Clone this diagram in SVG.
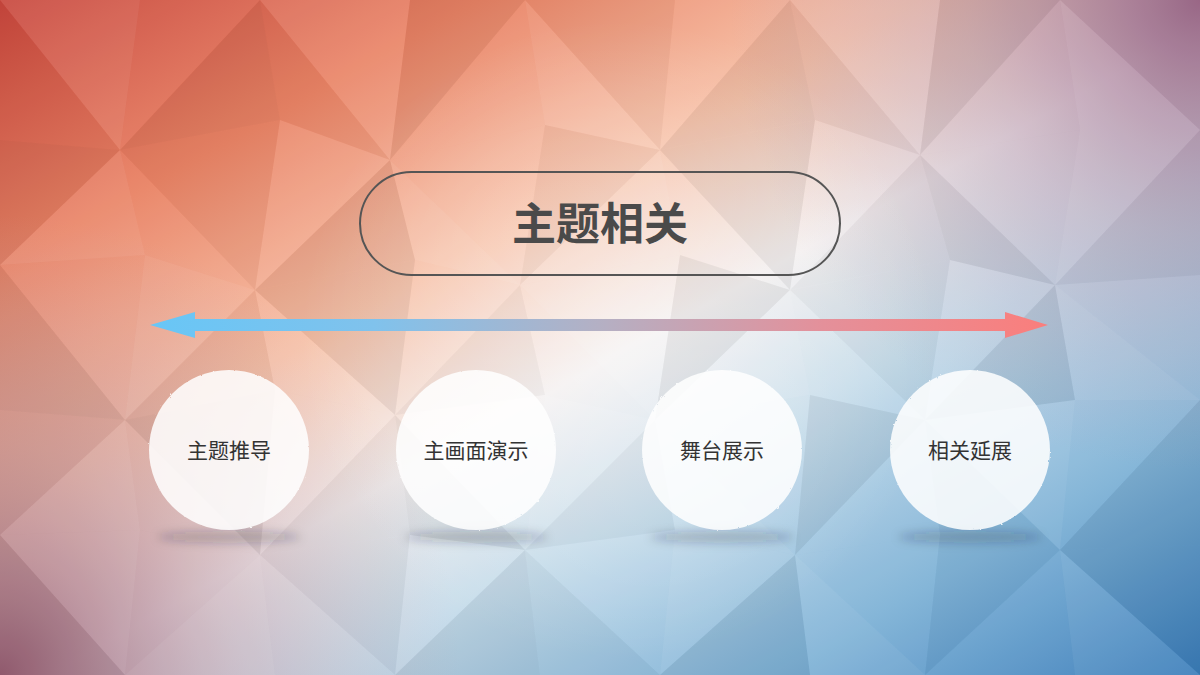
<svg xmlns="http://www.w3.org/2000/svg" width="1200" height="675" viewBox="0 0 1200 675">
<defs>
<linearGradient id="bg" x1="0" y1="0" x2="1" y2="1">
<stop offset="0" stop-color="#c8463c"/>
<stop offset="0.2" stop-color="#ea8466"/>
<stop offset="0.38" stop-color="#f7c0a6"/>
<stop offset="0.52" stop-color="#f2eeee"/>
<stop offset="0.64" stop-color="#c4dbea"/>
<stop offset="0.82" stop-color="#80b3d7"/>
<stop offset="1" stop-color="#3a7dba"/>
</linearGradient>
<radialGradient id="tr" gradientUnits="userSpaceOnUse" cx="1200" cy="0" r="470">
<stop offset="0" stop-color="#9a6486" stop-opacity="0.95"/>
<stop offset="0.5" stop-color="#b08ca4" stop-opacity="0.45"/>
<stop offset="1" stop-color="#b8a0b8" stop-opacity="0"/>
</radialGradient>
<radialGradient id="bl" gradientUnits="userSpaceOnUse" cx="0" cy="675" r="460">
<stop offset="0" stop-color="#94586e" stop-opacity="0.95"/>
<stop offset="0.5" stop-color="#b08494" stop-opacity="0.45"/>
<stop offset="1" stop-color="#c0a0ac" stop-opacity="0"/>
</radialGradient>
<radialGradient id="ctr" gradientUnits="userSpaceOnUse" cx="620" cy="340" r="320">
<stop offset="0" stop-color="#ffffff" stop-opacity="0.4"/>
<stop offset="1" stop-color="#ffffff" stop-opacity="0"/>
</radialGradient>
<linearGradient id="arr" gradientUnits="userSpaceOnUse" x1="150" y1="0" x2="1048" y2="0">
<stop offset="0" stop-color="#68c6f6"/>
<stop offset="0.25" stop-color="#80c2ec"/>
<stop offset="0.5" stop-color="#b4b0c4"/>
<stop offset="0.75" stop-color="#e4909a"/>
<stop offset="1" stop-color="#fa7e7c"/>
</linearGradient>
<filter id="blur" x="-30%" y="-200%" width="160%" height="500%">
<feGaussianBlur stdDeviation="5"/>
</filter>
<filter id="rough" x="-5%" y="-5%" width="110%" height="110%">
<feTurbulence type="fractalNoise" baseFrequency="0.3" numOctaves="2" seed="3" result="n"/>
<feDisplacementMap in="SourceGraphic" in2="n" scale="2"/>
</filter>
</defs>
<style>
.a{fill:#ffffff;fill-opacity:0.09}
.b{fill:#ffffff;fill-opacity:0.045}
.c{fill:#000000;fill-opacity:0.03}
.d{fill:#000000;fill-opacity:0.055}
.circ{fill:#ffffff;fill-opacity:0.86}
.shadow{fill:#1a2030;fill-opacity:0.22}
.lbl{font-family:"Noto Sans CJK SC","Noto Sans",sans-serif;font-size:21px;fill:#333333;text-anchor:middle}
.title{font-family:"Noto Sans CJK SC","Noto Sans",sans-serif;font-size:44px;font-weight:bold;fill:#4a4a4a;text-anchor:middle}
</style>
<g id="background">
<rect width="1200" height="675" fill="url(#bg)"/>
<rect width="1200" height="675" fill="url(#tr)"/>
<rect width="1200" height="675" fill="url(#bl)"/>
<rect width="1200" height="675" fill="url(#ctr)"/>
<polygon class="a" points="0,0 140,0 120,150"/>
<polygon class="c" points="0,0 120,150 0,140"/>
<polygon class="b" points="140,0 260,0 120,150"/>
<polygon class="d" points="260,0 280,120 120,150"/>
<polygon class="a" points="260,0 410,0 390,160"/>
<polygon class="c" points="260,0 390,160 280,120"/>
<polygon class="d" points="410,0 525,0 390,160"/>
<polygon class="b" points="525,0 545,125 390,160"/>
<polygon class="c" points="525,0 675,0 660,150"/>
<polygon class="a" points="525,0 660,150 545,125"/>
<polygon class="b" points="675,0 790,0 660,150"/>
<polygon class="d" points="790,0 815,120 660,150"/>
<polygon class="a" points="790,0 940,0 920,155"/>
<polygon class="c" points="790,0 920,155 815,120"/>
<polygon class="d" points="940,0 1060,0 920,155"/>
<polygon class="b" points="1060,0 1080,130 920,155"/>
<polygon class="c" points="1060,0 1200,0 1200,130"/>
<polygon class="a" points="1060,0 1200,130 1080,130"/>
<polygon class="d" points="0,140 120,150 0,265"/>
<polygon class="a" points="120,150 145,255 0,265"/>
<polygon class="c" points="120,150 280,120 255,290"/>
<polygon class="b" points="120,150 255,290 145,255"/>
<polygon class="a" points="280,120 390,160 255,290"/>
<polygon class="d" points="390,160 415,260 255,290"/>
<polygon class="b" points="390,160 545,125 520,285"/>
<polygon class="a" points="390,160 520,285 415,260"/>
<polygon class="c" points="545,125 660,150 520,285"/>
<polygon class="a" points="660,150 680,255 520,285"/>
<polygon class="d" points="660,150 815,120 790,290"/>
<polygon class="b" points="660,150 790,290 680,255"/>
<polygon class="a" points="815,120 920,155 790,290"/>
<polygon class="c" points="920,155 950,260 790,290"/>
<polygon class="b" points="920,155 1080,130 1055,285"/>
<polygon class="d" points="920,155 1055,285 950,260"/>
<polygon class="a" points="1080,130 1200,130 1055,285"/>
<polygon class="c" points="1200,130 1200,275 1055,285"/>
<polygon class="b" points="0,265 145,255 125,420"/>
<polygon class="d" points="0,265 125,420 0,410"/>
<polygon class="a" points="145,255 255,290 125,420"/>
<polygon class="c" points="255,290 275,390 125,420"/>
<polygon class="d" points="255,290 415,260 395,415"/>
<polygon class="a" points="255,290 395,415 275,390"/>
<polygon class="b" points="415,260 520,285 395,415"/>
<polygon class="c" points="520,285 545,395 395,415"/>
<polygon class="a" points="520,285 680,255 655,420"/>
<polygon class="b" points="520,285 655,420 545,395"/>
<polygon class="d" points="680,255 790,290 655,420"/>
<polygon class="a" points="790,290 810,395 655,420"/>
<polygon class="c" points="790,290 950,260 925,420"/>
<polygon class="b" points="790,290 925,420 810,395"/>
<polygon class="a" points="950,260 1055,285 925,420"/>
<polygon class="d" points="1055,285 1075,400 925,420"/>
<polygon class="b" points="1055,285 1200,275 1200,400"/>
<polygon class="a" points="1055,285 1200,400 1075,400"/>
<polygon class="c" points="0,410 125,420 0,535"/>
<polygon class="a" points="125,420 140,530 0,535"/>
<polygon class="d" points="125,420 275,390 260,555"/>
<polygon class="b" points="125,420 260,555 140,530"/>
<polygon class="a" points="275,390 395,415 260,555"/>
<polygon class="c" points="395,415 410,535 260,555"/>
<polygon class="b" points="395,415 545,395 525,550"/>
<polygon class="d" points="395,415 525,550 410,535"/>
<polygon class="a" points="545,395 655,420 525,550"/>
<polygon class="c" points="655,420 675,530 525,550"/>
<polygon class="b" points="655,420 810,395 795,555"/>
<polygon class="a" points="655,420 795,555 675,530"/>
<polygon class="d" points="810,395 925,420 795,555"/>
<polygon class="b" points="925,420 940,535 795,555"/>
<polygon class="a" points="925,420 1075,400 1060,550"/>
<polygon class="c" points="925,420 1060,550 940,535"/>
<polygon class="b" points="1075,400 1200,400 1060,550"/>
<polygon class="d" points="1200,400 1200,545 1060,550"/>
<polygon class="a" points="0,535 140,530 125,675"/>
<polygon class="d" points="0,535 125,675 0,675"/>
<polygon class="b" points="140,530 260,555 125,675"/>
<polygon class="a" points="260,555 275,675 125,675"/>
<polygon class="c" points="260,555 410,535 395,675"/>
<polygon class="b" points="260,555 395,675 275,675"/>
<polygon class="a" points="410,535 525,550 395,675"/>
<polygon class="d" points="525,550 540,675 395,675"/>
<polygon class="b" points="525,550 675,530 660,675"/>
<polygon class="c" points="525,550 660,675 540,675"/>
<polygon class="a" points="675,530 795,555 660,675"/>
<polygon class="d" points="795,555 810,675 660,675"/>
<polygon class="b" points="795,555 940,535 925,675"/>
<polygon class="a" points="795,555 925,675 810,675"/>
<polygon class="c" points="940,535 1060,550 925,675"/>
<polygon class="b" points="1060,550 1075,675 925,675"/>
<polygon class="d" points="1060,550 1200,545 1200,675"/>
<polygon class="a" points="1060,550 1200,675 1075,675"/>
</g>
<g id="title">
<rect x="360" y="172" width="480" height="103" rx="51.5" ry="51.5" fill="none" stroke="#555555" stroke-width="2"/>
<text class="title" x="600" y="240">主题相关</text>
</g>
<g id="connectors">
<polygon fill="url(#arr)" points="150,325 195,312 195,319 1005,319 1005,312 1048,325 1005,338 1005,331 195,331 195,338"/>
</g>
<g id="node1">
<ellipse class="shadow" cx="229" cy="537" rx="72" ry="6" filter="url(#blur)"/>
<circle class="circ" cx="229" cy="450" r="80" filter="url(#rough)"/>
<text class="lbl" x="229" y="458">主题推导</text>
</g>
<g id="node2">
<ellipse class="shadow" cx="476" cy="537" rx="72" ry="6" filter="url(#blur)"/>
<circle class="circ" cx="476" cy="450" r="80" filter="url(#rough)"/>
<text class="lbl" x="476" y="458">主画面演示</text>
</g>
<g id="node3">
<ellipse class="shadow" cx="722" cy="537" rx="72" ry="6" filter="url(#blur)"/>
<circle class="circ" cx="722" cy="450" r="80" filter="url(#rough)"/>
<text class="lbl" x="722" y="458">舞台展示</text>
</g>
<g id="node4">
<ellipse class="shadow" cx="970" cy="537" rx="72" ry="6" filter="url(#blur)"/>
<circle class="circ" cx="970" cy="450" r="80" filter="url(#rough)"/>
<text class="lbl" x="970" y="458">相关延展</text>
</g>
</svg>
